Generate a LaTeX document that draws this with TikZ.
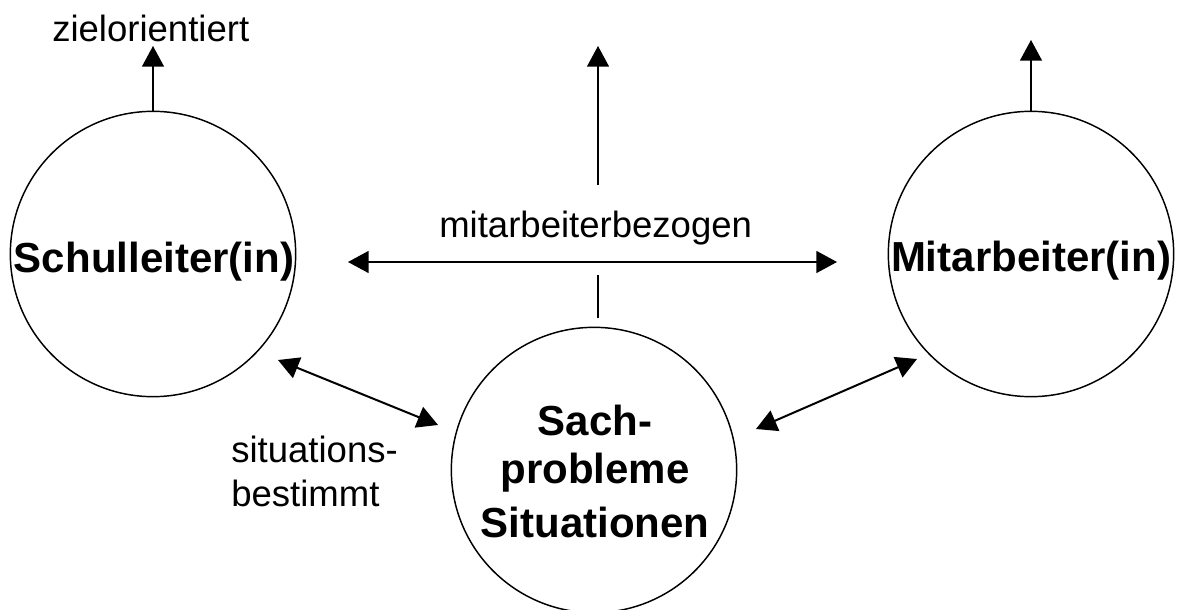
\documentclass[tikz,border=0pt]{standalone}
\usepackage{fontspec}
\setmainfont{Liberation Sans}
\usetikzlibrary{arrows.meta}
\begin{document}
\begin{tikzpicture}[x=0.75pt,y=-0.75pt,
  ring/.style={circle,draw,line width=1.1pt,minimum size=214pt,inner sep=0pt},
  bigtxt/.style={inner sep=0pt,font=\fontsize{31.5}{38}\selectfont\bfseries,anchor=base},
  smalltxt/.style={inner sep=0pt,font=\fontsize{27.4}{33}\selectfont,anchor=base west},
  tip/.style={-{Triangle[length=15.5pt,width=16.5pt]}},
  twotip/.style={{Triangle[length=15.5pt,width=16.5pt]}-{Triangle[length=15.5pt,width=16.5pt]}}]
\useasboundingbox (0,0) rectangle (1179,610);
% circles
\node[ring] (sl) at (153,254) {};
\node[ring] (ma) at (1031,254) {};
\node[ring] (sp) at (594,470) {};
% circle texts
\node[bigtxt] (tsl) at (154,272) {Schulleiter(in)};
\node[bigtxt] (tma) at (1031,271) {Mitarbeiter(in)};
\node[bigtxt] (tsp1) at (595,435) {Sach-};
\node[bigtxt] (tsp2) at (595,483) {probleme};
\node[bigtxt] (tsp3) at (595,537) {Situationen};
% labels
\node[smalltxt] (zo) at (52,42) {zielorientiert};
\node[smalltxt] (mb) at (439,237) {mitarbeiterbezogen};
\node[smalltxt] (sb1) at (231,462) {situations-};
\node[smalltxt] (sb2) at (231,506) {bestimmt};
% coordinates
\coordinate (ltop) at (153,46);
\coordinate (mlow) at (598,185);
\coordinate (mtop) at (598,46);
\coordinate (rtop) at (1031,40);
\coordinate (m1) at (598,275);
\coordinate (m2) at (598,318);
\coordinate (hl) at (348,262);
\coordinate (hr) at (837,262);
\coordinate (dl1) at (278,360);
\coordinate (dl2) at (438,425);
\coordinate (dr1) at (756,429);
\coordinate (dr2) at (917,359);
% connectors
\draw[tip,line width=1pt] (sl.north) -- (ltop);
\draw[tip,line width=1pt] (mlow) -- (mtop);
\draw[tip,line width=1pt] (ma.north) -- (rtop);
\draw[line width=1pt] (m1) -- (m2);
\draw[twotip,line width=1.1pt] (hl) -- (hr);
\draw[twotip,line width=1.5pt] (dl1) -- (dl2);
\draw[twotip,line width=1.5pt] (dr1) -- (dr2);
\end{tikzpicture}
\end{document}
